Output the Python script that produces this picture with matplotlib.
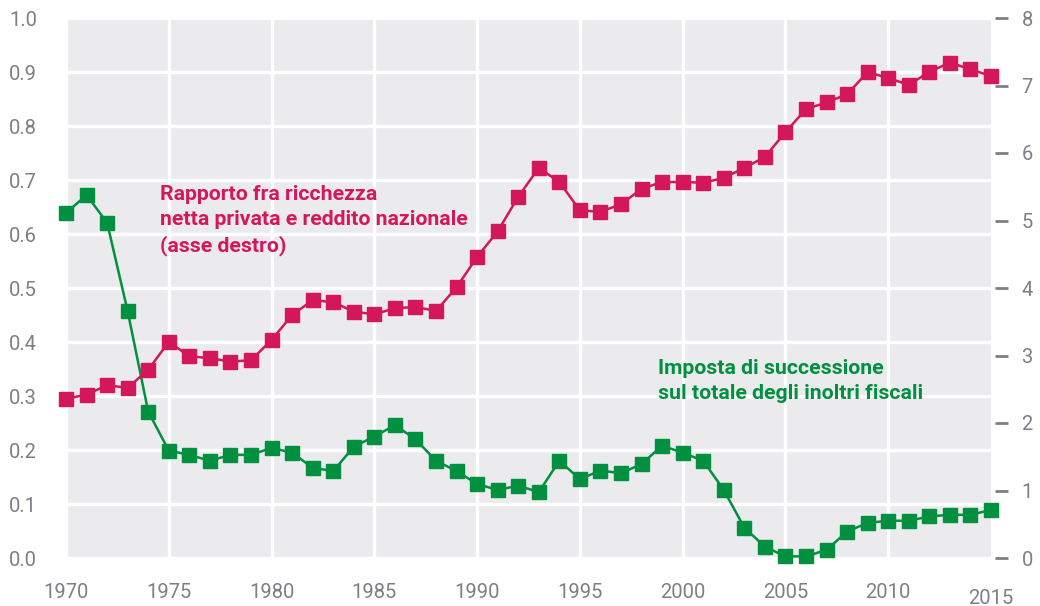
import matplotlib
matplotlib.use("Agg")
import matplotlib.pyplot as plt

# ── 数据 ──
years = list(range(1970, 2016))

# 遗产税占税收总额（左轴）
inheritance_tax = [0.639, 0.672, 0.621, 0.457, 0.271, 0.199, 0.191, 0.180, 0.191, 0.191,
                   0.204, 0.195, 0.167, 0.161, 0.206, 0.225, 0.246, 0.220, 0.180, 0.161,
                   0.137, 0.126, 0.134, 0.122, 0.180, 0.146, 0.162, 0.157, 0.174, 0.208,
                   0.195, 0.180, 0.126, 0.056, 0.021, 0.003, 0.003, 0.015, 0.049, 0.065,
                   0.069, 0.069, 0.077, 0.080, 0.080, 0.089]

# 私人净财富 / 国民收入（右轴）
wealth_ratio = [2.36, 2.42, 2.56, 2.52, 2.79, 3.20, 2.99, 2.96, 2.91, 2.93,
                3.23, 3.60, 3.82, 3.79, 3.65, 3.61, 3.70, 3.72, 3.66, 4.01,
                4.46, 4.84, 5.35, 5.78, 5.57, 5.15, 5.13, 5.24, 5.47, 5.57,
                5.57, 5.56, 5.63, 5.78, 5.94, 6.31, 6.65, 6.75, 6.87, 7.20,
                7.11, 7.01, 7.20, 7.34, 7.24, 7.14]

left_ticks = [0.0, 0.1, 0.2, 0.3, 0.4, 0.5, 0.6, 0.7, 0.8, 0.9, 1.0]
right_ticks = [0, 1, 2, 3, 4, 5, 6, 7, 8]
x_ticks = [1970, 1975, 1980, 1985, 1990, 1995, 2000, 2005, 2010]

RED = "#D4175A"
GREEN = "#00903F"
GRAY = "#7E7F86"
BG = "#EBEBED"
FONT = "Roboto"
TICK_FS = 14.5

fig = plt.figure(figsize=(10.4, 6.06), dpi=100)
W, H = 1040, 606
ax = fig.add_axes([66 / W, (H - 558) / H, (991 - 66) / W, (558 - 18) / H])
ax.set_facecolor(BG)
for s in ax.spines.values():
    s.set_visible(False)

ax.set_xlim(1970, 2015)
ax.set_ylim(0, 1)
ax.set_yticks(left_ticks)
ax.set_yticklabels([f"{v:.1f}" for v in left_ticks], fontfamily=FONT, fontsize=TICK_FS, color=GRAY)
ax.set_xticks(x_ticks)
ax.set_xticklabels([str(v) for v in x_ticks], fontfamily=FONT, fontsize=TICK_FS, color=GRAY)
ax.tick_params(axis="y", length=0, pad=21)
ax.tick_params(axis="x", length=0, pad=18)
ax.grid(True, color="white", linewidth=2.4)
ax.set_axisbelow(True)
ax.text(2015.0, -0.075, "2015", fontfamily=FONT, fontsize=TICK_FS, color=GRAY,
        ha="center", va="center", clip_on=False)

ax.plot(years, inheritance_tax, color=GREEN, linewidth=1.8, marker="s",
        markersize=9.5, clip_on=False, zorder=3)

ax2 = ax.twinx()
for s in ax2.spines.values():
    s.set_visible(False)
ax2.spines["right"].set_position(("outward", 3))
ax2.set_ylim(0, 8)
ax2.set_yticks(right_ticks)
ax2.set_yticklabels([str(v) for v in right_ticks], fontfamily=FONT, fontsize=TICK_FS, color=GRAY)
ax2.tick_params(axis="y", length=9, width=2, color=GRAY, pad=10)
ax2.plot(years, wealth_ratio, color=RED, linewidth=1.8, marker="s",
         markersize=9.5, clip_on=False, zorder=3)

# ── 标注 ──
ax.text(1974.55, 0.69, "Rapporto fra ricchezza\nnetta privata e reddito nazionale\n(asse destro)",
        color=RED, fontfamily=FONT, fontweight="bold", fontsize=15.3,
        ha="left", va="top", linespacing=1.38)
ax.text(1998.8, 0.368, "Imposta di successione\nsul totale degli inoltri fiscali",
        color=GREEN, fontfamily=FONT, fontweight="bold", fontsize=15.3,
        ha="left", va="top", linespacing=1.38)

fig.savefig("out.png", dpi=100)
